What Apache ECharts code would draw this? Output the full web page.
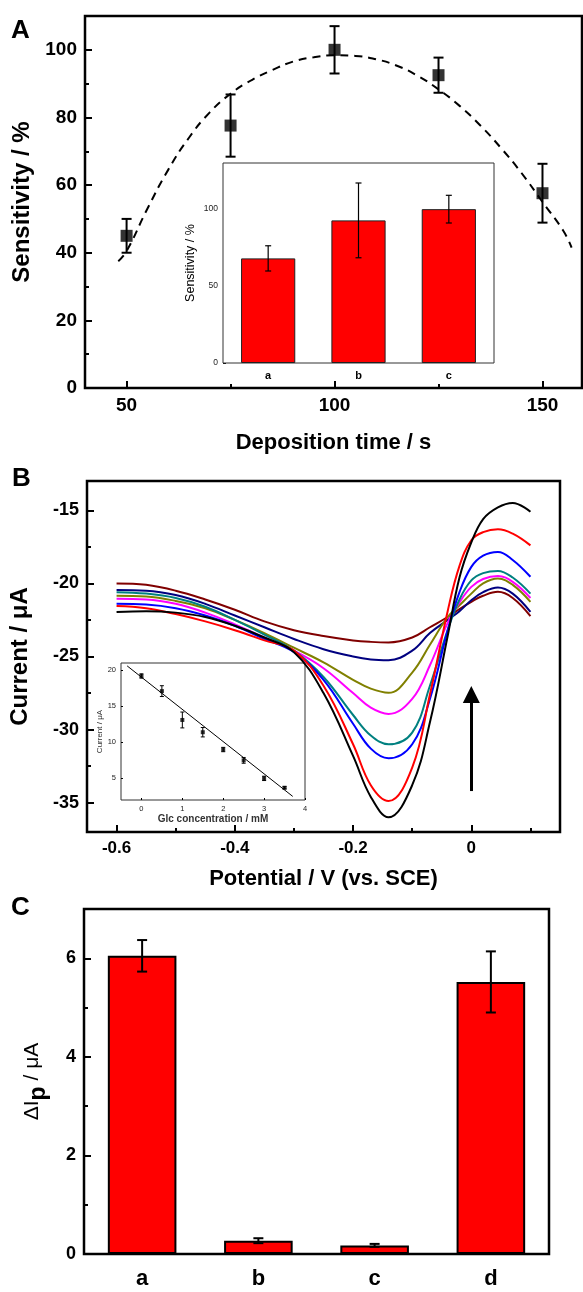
<!DOCTYPE html>
<html>
<head>
<meta charset="utf-8">
<title>Deposition time / DPV curves / selectivity</title>
<script src="https://cdn.jsdelivr.net/npm/echarts@6/dist/echarts.min.js"></script>
<style>
  html, body { margin: 0; padding: 0; background: #fff; }
  #chart { width: 583px; height: 1292px; }
</style>
</head>
<body>
<div id="chart"></div>
<script>
// ---- panel A: sensitivity vs deposition time
var depTime = [50, 75, 100, 125, 150];
var sensitivity = [45, 77.6, 100, 92.5, 57.6];
var sensitivityErr = [5, 9.2, 7, 5.2, 8.7];
// dashed fitted curve
var fitTime = [48, 50, 55, 60, 65, 70, 75, 80, 85, 90, 95, 100, 105, 110, 115, 120, 125, 130, 135, 140, 145, 150, 155, 157];
var fitSens = [37.5, 40.5, 53, 64.5, 74, 81.5, 87, 91, 94, 96.5, 97.8, 98.4, 98.2, 97.2, 95.3, 92.3, 88.3, 83.5, 77.7, 71, 63.5, 55, 46.5, 41.5];

// inset A
var insetACats = ['a', 'b', 'c'];
var insetAVals = [68, 92.7, 100];
var insetAErr = [8.2, 24.3, 9];

// ---- panel B: DPV curves
var potential = [-0.6, -0.55, -0.5, -0.45, -0.4, -0.35, -0.3, -0.25, -0.2, -0.17, -0.14, -0.1, -0.07, -0.04, -0.02, 0, 0.02, 0.045, 0.07, 0.1];
var curveBlack   = [-21.95, -21.9, -22.0, -22.3, -22.9, -23.7, -24.7, -27.5, -31.8, -34.6, -35.99, -33.8, -29.5, -23.6, -19.6, -17.2, -15.6, -14.8, -14.5, -15.1];
var curveRed     = [-21.55, -21.7, -22.1, -22.6, -23.2, -23.9, -24.6, -27.0, -31.0, -33.8, -34.88, -32.6, -27.6, -21.9, -18.8, -17.05, -16.5, -16.3, -16.6, -17.4];
var curveBlue    = [-21.4, -21.45, -21.7, -22.2, -22.9, -23.8, -24.7, -26.6, -29.6, -31.3, -31.96, -31.0, -27.9, -23.2, -20.6, -18.87, -18.1, -17.85, -18.4, -19.55];
var curveTeal    = [-20.6, -20.7, -21.0, -21.6, -22.5, -23.5, -24.6, -26.4, -29.0, -30.4, -31.0, -30.2, -27.0, -23.2, -21.1, -19.8, -19.3, -19.15, -19.6, -20.7];
var curveMagenta = [-21.05, -21.1, -21.4, -22.0, -22.8, -23.7, -24.6, -25.8, -27.5, -28.5, -28.93, -27.9, -25.6, -22.7, -21.3, -20.24, -19.7, -19.5, -19.9, -21.0];
var curveOlive   = [-20.85, -20.9, -21.2, -21.7, -22.5, -23.4, -24.4, -25.4, -26.6, -27.2, -27.48, -26.1, -24.2, -22.3, -21.5, -20.7, -20.0, -19.67, -20.1, -21.26];
var curveNavy    = [-20.45, -20.5, -20.8, -21.4, -22.2, -23.0, -23.8, -24.5, -25.0, -25.2, -25.25, -24.6, -23.4, -22.5, -21.9, -21.15, -20.6, -20.28, -20.7, -21.95];
var curveMaroon  = [-20.0, -20.1, -20.5, -21.1, -21.8, -22.6, -23.2, -23.6, -23.9, -24.0, -24.04, -23.7, -23.0, -22.3, -21.75, -21.26, -20.85, -20.58, -21.0, -22.24];
var arrowX = 0;
var arrowY = [-34.2, -27.6];

// inset B: calibration
var glcConc = [0, 0.5, 1, 1.5, 2, 2.5, 3, 3.5];
var glcCurrent = [19.2, 17.1, 13.1, 11.4, 9.0, 7.5, 5.0, 3.7];
var glcCurrentErr = [0.3, 0.75, 1.1, 0.65, 0.3, 0.4, 0.3, 0.15];
var glcFitX = [-0.35, 3.7];
var glcFitY = [20.6, 2.5];

// ---- panel C: selectivity
var cCats = ['a', 'b', 'c', 'd'];
var cVals = [6.05, 0.27, 0.175, 5.52];
var cErr = [0.32, 0.05, 0.03, 0.62];

var FONT = '"Liberation Sans", Arial, sans-serif';

function zip(xs, ys) {
    var out = [];
    for (var i = 0; i < xs.length; i++) out.push([xs[i], ys[i]]);
    return out;
}
function errData(xs, ys, es) {
    var out = [];
    for (var i = 0; i < ys.length; i++) {
        out.push([xs ? xs[i] : i, ys[i] + es[i], ys[i] - es[i]]);
    }
    return out;
}
// vertical error bar with caps, drawn through the axis scales
function errorBar(capHalf, width) {
    return function (params, api) {
        var x = api.value(0);
        var hi = api.coord([x, api.value(1)]);
        var lo = api.coord([x, api.value(2)]);
        var style = { stroke: '#000', lineWidth: width };
        return {
            type: 'group',
            children: [
                { type: 'line', shape: { x1: hi[0], y1: hi[1], x2: lo[0], y2: lo[1] }, style: style },
                { type: 'line', shape: { x1: hi[0] - capHalf, y1: hi[1], x2: hi[0] + capHalf, y2: hi[1] }, style: style },
                { type: 'line', shape: { x1: lo[0] - capHalf, y1: lo[1], x2: lo[0] + capHalf, y2: lo[1] }, style: style }
            ]
        };
    };
}
// value axis with custom tick positions (ticks drawn inside)
function valAxis(grid, pos, min, max, ticks, tickLen, tickW, labels, fontSize, extra) {
    var ax = {
        type: 'value', gridIndex: grid, position: pos, offset: 0, min: min, max: max,
        axisLine: { show: false, onZero: false },
        splitLine: { show: false },
        axisTick: { show: true, inside: true, length: tickLen, customValues: ticks, lineStyle: { color: '#000', width: tickW } },
        axisLabel: labels ? { show: true, customValues: labels, color: '#000', fontFamily: FONT, fontWeight: 'bold', fontSize: fontSize, margin: 8 } : { show: false }
    };
    return Object.assign(ax, extra || {});
}
var smallLabel = { color: '#222', fontFamily: FONT, fontWeight: 'normal', fontSize: 8.5, margin: 5 };

var chart = echarts.init(document.getElementById('chart'));

var option = {
    backgroundColor: '#fff',
    animation: false,
    grid: [
        { left: 85, top: 16, width: 497, height: 372, show: true, borderColor: '#000', borderWidth: 2.5, backgroundColor: 'transparent', outerBoundsMode: 'none' },
        { left: 223, top: 163, width: 271, height: 200, show: true, borderColor: '#333', borderWidth: 1, backgroundColor: '#fff', outerBoundsMode: 'none', z: 3 },
        { left: 87, top: 481, width: 473, height: 351, show: true, borderColor: '#000', borderWidth: 2.5, backgroundColor: 'transparent', outerBoundsMode: 'none' },
        { left: 121, top: 663, width: 184, height: 137, show: true, borderColor: '#333', borderWidth: 1, backgroundColor: '#fff', outerBoundsMode: 'none' },
        { left: 84, top: 909, width: 465, height: 345, show: true, borderColor: '#000', borderWidth: 2.5, backgroundColor: 'transparent', outerBoundsMode: 'none' }
    ],
    xAxis: [
        valAxis(0, 'bottom', 40, 159.5, [50, 100, 150], 7, 2, [50, 100, 150], 19, {
            name: 'Deposition time / s', nameLocation: 'middle', nameGap: 44,
            nameTextStyle: { fontFamily: FONT, fontWeight: 'bold', fontSize: 22, color: '#000' }
        }),
        valAxis(0, 'bottom', 40, 159.5, [75, 125], 4, 2, null),
        {
            type: 'category', gridIndex: 1, data: insetACats, position: 'bottom',
            axisLine: { show: false, onZero: false }, axisTick: { show: false }, splitLine: { show: false },
            axisLabel: { color: '#000', fontFamily: FONT, fontWeight: 'bold', fontSize: 11, margin: 7 }
        },
        valAxis(2, 'bottom', -0.65, 0.15, [-0.6, -0.4, -0.2, 0], 7, 2, [-0.6, -0.4, -0.2, 0], 17, {
            name: 'Potential / V (vs. SCE)', nameLocation: 'middle', nameGap: 36,
            nameTextStyle: { fontFamily: FONT, fontWeight: 'bold', fontSize: 22, color: '#000' }
        }),
        valAxis(2, 'bottom', -0.65, 0.15, [-0.5, -0.3, -0.1, 0.1], 4, 2, null),
        valAxis(3, 'bottom', -0.5, 4, [0, 1, 2, 3, 4], 2, 1, null, 7, {
            axisLabel: Object.assign({ customValues: [0, 1, 2, 3, 4] }, smallLabel, { fontSize: 7.5 }),
            name: 'Glc concentration / mM', nameLocation: 'middle', nameGap: 13,
            nameTextStyle: { fontFamily: FONT, fontWeight: 'bold', fontSize: 10, color: '#333' }
        }),
        {
            type: 'category', gridIndex: 4, data: cCats, position: 'bottom',
            axisLine: { show: false, onZero: false }, axisTick: { show: false }, splitLine: { show: false },
            axisLabel: { color: '#000', fontFamily: FONT, fontWeight: 'bold', fontSize: 22, margin: 14 }
        }
    ],
    yAxis: [
        valAxis(0, 'left', 0, 110, [0, 20, 40, 60, 80, 100], 7, 2, [0, 20, 40, 60, 80, 100], 19, {
            name: 'Sensitivity / %', nameLocation: 'middle', nameGap: 48, nameRotate: 90,
            nameTextStyle: { fontFamily: FONT, fontWeight: 'bold', fontSize: 24, color: '#000' }
        }),
        valAxis(0, 'left', 0, 110, [10, 30, 50, 70, 90], 4, 2, null),
        valAxis(1, 'left', 0, 130, [0, 50, 100], 3, 1, null, 8, {
            axisLabel: Object.assign({ customValues: [0, 50, 100] }, smallLabel),
            name: 'Sensitivity / %', nameLocation: 'middle', nameGap: 26, nameRotate: 90,
            nameTextStyle: { fontFamily: FONT, fontSize: 12.5, color: '#000' }
        }),
        valAxis(1, 'left', 0, 130, [25, 75, 125], 2, 1, null),
        valAxis(2, 'left', -37, -13, [-35, -30, -25, -20, -15], 7, 2, [-35, -30, -25, -20, -15], 18, {
            name: 'Current / \u03bcA', nameLocation: 'middle', nameGap: 55, nameRotate: 90,
            nameTextStyle: { fontFamily: FONT, fontWeight: 'bold', fontSize: 24, color: '#000' }
        }),
        valAxis(2, 'left', -37, -13, [-32.5, -27.5, -22.5, -17.5], 4, 2, null),
        valAxis(3, 'left', 2, 21, [5, 10, 15, 20], 2, 1, null, 7, {
            axisLabel: Object.assign({ customValues: [5, 10, 15, 20] }, smallLabel, { fontSize: 7.5 }),
            name: 'Current / \u03bcA', nameLocation: 'middle', nameGap: 14, nameRotate: 90,
            nameTextStyle: { fontFamily: FONT, fontSize: 8, color: '#333' }
        }),
        valAxis(4, 'left', 0, 7, [0, 2, 4, 6], 7, 2, [0, 2, 4, 6], 18, {
            name: '{n|\u0394I}{p|p}{n| / \u03bcA}', nameLocation: 'middle', nameGap: 34, nameRotate: 90,
            nameTextStyle: {
                color: '#000',
                rich: {
                    n: { fontFamily: FONT, fontSize: 21, color: '#000' },
                    p: { fontFamily: FONT, fontSize: 23, fontWeight: 'bold', color: '#000', padding: [12, 0, 0, 0] }
                }
            }
        }),
        valAxis(4, 'left', 0, 7, [1, 3, 5], 4, 2, null)
    ],
    series: [
        // A: fitted curve, points, error bars
        {
            type: 'line', xAxisIndex: 0, yAxisIndex: 0, data: zip(fitTime, fitSens),
            smooth: true, symbol: 'none', lineStyle: { color: '#000', width: 2, type: [8, 6] }
        },
        {
            type: 'custom', xAxisIndex: 0, yAxisIndex: 0, encode: { x: 0, y: [1, 2] },
            data: errData(depTime, sensitivity, sensitivityErr), renderItem: errorBar(5, 2), z: 3
        },
        {
            type: 'scatter', xAxisIndex: 0, yAxisIndex: 0, data: zip(depTime, sensitivity),
            symbol: 'rect', symbolSize: 12, itemStyle: { color: '#000' }, z: 4
        },
        // inset A
        {
            type: 'bar', xAxisIndex: 2, yAxisIndex: 2, data: insetAVals, barWidth: '60%',
            itemStyle: { color: '#ff0000', borderColor: '#222', borderWidth: 1 }, z: 5
        },
        {
            type: 'custom', xAxisIndex: 2, yAxisIndex: 2, encode: { x: 0, y: [1, 2] },
            data: errData(null, insetAVals, insetAErr), renderItem: errorBar(3, 1.2), z: 6
        },
        // B: DPV curves
        { type: 'line', xAxisIndex: 3, yAxisIndex: 4, data: zip(potential, curveMaroon), smooth: 0.4, symbol: 'none', lineStyle: { color: '#800000', width: 2 } },
        { type: 'line', xAxisIndex: 3, yAxisIndex: 4, data: zip(potential, curveNavy), smooth: 0.4, symbol: 'none', lineStyle: { color: '#000080', width: 2 } },
        { type: 'line', xAxisIndex: 3, yAxisIndex: 4, data: zip(potential, curveOlive), smooth: 0.4, symbol: 'none', lineStyle: { color: '#808000', width: 2 } },
        { type: 'line', xAxisIndex: 3, yAxisIndex: 4, data: zip(potential, curveMagenta), smooth: 0.4, symbol: 'none', lineStyle: { color: '#ff00ff', width: 2 } },
        { type: 'line', xAxisIndex: 3, yAxisIndex: 4, data: zip(potential, curveTeal), smooth: 0.4, symbol: 'none', lineStyle: { color: '#008080', width: 2 } },
        { type: 'line', xAxisIndex: 3, yAxisIndex: 4, data: zip(potential, curveBlue), smooth: 0.4, symbol: 'none', lineStyle: { color: '#0000ff', width: 2 } },
        { type: 'line', xAxisIndex: 3, yAxisIndex: 4, data: zip(potential, curveRed), smooth: 0.4, symbol: 'none', lineStyle: { color: '#ff0000', width: 2 } },
        {
            type: 'line', xAxisIndex: 3, yAxisIndex: 4, data: zip(potential, curveBlack), smooth: 0.4, symbol: 'none',
            lineStyle: { color: '#000', width: 2 },
            markLine: {
                silent: true, symbol: ['none', 'triangle'], symbolSize: 17,
                label: { show: false },
                lineStyle: { color: '#000', width: 3, type: 'solid' },
                data: [[{ coord: [arrowX, arrowY[0]] }, { coord: [arrowX, arrowY[1]] }]]
            }
        },
        // inset B
        {
            type: 'line', xAxisIndex: 5, yAxisIndex: 6, data: zip(glcFitX, glcFitY),
            symbol: 'none', lineStyle: { color: '#000', width: 1 }, z: 5
        },
        {
            type: 'custom', xAxisIndex: 5, yAxisIndex: 6, encode: { x: 0, y: [1, 2] },
            data: errData(glcConc, glcCurrent, glcCurrentErr), renderItem: errorBar(2, 1), z: 6
        },
        {
            type: 'scatter', xAxisIndex: 5, yAxisIndex: 6, data: zip(glcConc, glcCurrent),
            symbol: 'rect', symbolSize: 4, itemStyle: { color: '#000' }, z: 6
        },
        // C: bars
        {
            type: 'bar', xAxisIndex: 6, yAxisIndex: 7, data: cVals, barWidth: '59%',
            itemStyle: { color: '#ff0000', borderColor: '#000', borderWidth: 2 }
        },
        {
            type: 'custom', xAxisIndex: 6, yAxisIndex: 7, encode: { x: 0, y: [1, 2] },
            data: errData(null, cVals, cErr), renderItem: errorBar(5, 2), z: 5
        }
    ],
    graphic: [
        { type: 'text', left: 11, top: 18, style: { text: 'A', fontFamily: FONT, fontWeight: 'bold', fontSize: 26, fill: '#000' } },
        { type: 'text', left: 12, top: 466, style: { text: 'B', fontFamily: FONT, fontWeight: 'bold', fontSize: 26, fill: '#000' } },
        { type: 'text', left: 11, top: 895, style: { text: 'C', fontFamily: FONT, fontWeight: 'bold', fontSize: 26, fill: '#000' } }
    ]
};

chart.setOption(option);
</script>
</body>
</html>
